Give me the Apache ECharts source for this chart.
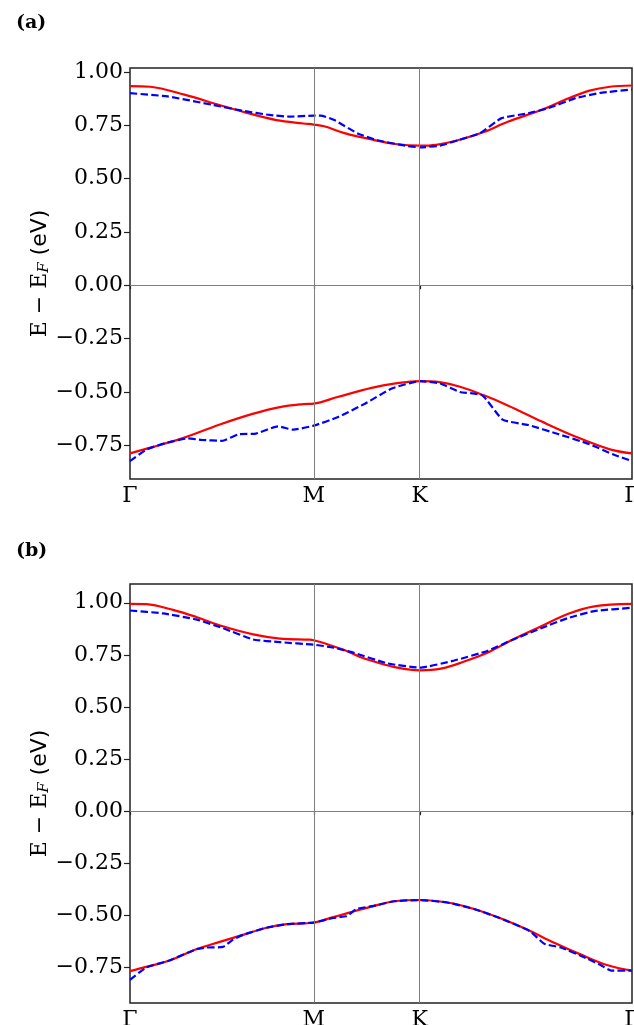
<!DOCTYPE html>
<html>
<head>
<meta charset="utf-8">
<script src="https://cdn.jsdelivr.net/npm/echarts@6/dist/echarts.min.js"></script>
<style>
  html, body { margin: 0; padding: 0; background: #fff; }
  #chart { width: 634px; height: 1025px; }
</style>
</head>
<body>
<div id="chart"></div>
<script>
// k-path positions of the high-symmetry points and their labels
const kTicks = [0, 0.5774, 0.9107, 1.5774];
const kLabels = ['Γ', 'M', 'K', 'Γ'];
const yTicks = [-0.75, -0.5, -0.25, 0, 0.25, 0.5, 0.75, 1.0];

// panel (a): [k, E] pairs
const aRedUpper = [[0,0.933],[0.064,0.930],[0.171,0.893],[0.278,0.846],[0.364,0.809],[0.460,0.774],[0.545,0.758],[0.577,0.753],[0.610,0.745],[0.674,0.713],[0.759,0.683],[0.834,0.662],[0.911,0.654],[0.962,0.658],[1.027,0.678],[1.112,0.718],[1.187,0.766],[1.294,0.822],[1.380,0.877],[1.444,0.912],[1.508,0.930],[1.577,0.936]];
const aBlueUpper = [[0,0.900],[0.118,0.885],[0.257,0.846],[0.353,0.818],[0.438,0.798],[0.503,0.790],[0.577,0.795],[0.599,0.795],[0.642,0.774],[0.717,0.710],[0.781,0.678],[0.866,0.654],[0.911,0.646],[0.973,0.654],[1.037,0.682],[1.101,0.713],[1.166,0.782],[1.251,0.806],[1.315,0.830],[1.401,0.877],[1.476,0.901],[1.577,0.917]];
const aRedLower = [[0,-0.788],[0.064,-0.761],[0.171,-0.714],[0.278,-0.655],[0.385,-0.603],[0.471,-0.571],[0.545,-0.557],[0.577,-0.555],[0.652,-0.524],[0.759,-0.481],[0.834,-0.460],[0.911,-0.449],[0.973,-0.454],[1.037,-0.476],[1.112,-0.516],[1.187,-0.563],[1.294,-0.639],[1.401,-0.710],[1.508,-0.769],[1.577,-0.788]];
const aBlueLower = [[0,-0.824],[0.053,-0.769],[0.118,-0.737],[0.182,-0.718],[0.225,-0.725],[0.289,-0.729],[0.342,-0.698],[0.396,-0.695],[0.465,-0.661],[0.513,-0.677],[0.577,-0.658],[0.652,-0.619],[0.738,-0.555],[0.823,-0.484],[0.911,-0.449],[0.973,-0.460],[1.037,-0.500],[1.107,-0.516],[1.171,-0.630],[1.251,-0.655],[1.347,-0.698],[1.444,-0.745],[1.519,-0.793],[1.577,-0.824]];

// panel (b)
const bRedUpper = [[0,0.995],[0.051,0.993],[0.135,0.966],[0.208,0.932],[0.292,0.887],[0.387,0.848],[0.471,0.828],[0.565,0.823],[0.577,0.820],[0.618,0.802],[0.681,0.769],[0.723,0.740],[0.767,0.718],[0.840,0.689],[0.911,0.676],[0.977,0.684],[1.050,0.718],[1.123,0.760],[1.197,0.819],[1.292,0.887],[1.375,0.946],[1.459,0.983],[1.577,0.995]];
const bBlueUpper = [[0,0.963],[0.103,0.949],[0.208,0.920],[0.292,0.878],[0.387,0.824],[0.471,0.811],[0.577,0.799],[0.639,0.785],[0.704,0.760],[0.809,0.709],[0.911,0.689],[1.019,0.723],[1.123,0.769],[1.197,0.819],[1.292,0.878],[1.375,0.926],[1.459,0.960],[1.577,0.976]];
const bRedLower = [[0,-0.767],[0.051,-0.747],[0.124,-0.716],[0.208,-0.662],[0.282,-0.627],[0.355,-0.593],[0.429,-0.559],[0.492,-0.542],[0.577,-0.534],[0.639,-0.508],[0.681,-0.490],[0.767,-0.454],[0.830,-0.432],[0.911,-0.426],[0.997,-0.438],[1.081,-0.469],[1.166,-0.515],[1.249,-0.569],[1.333,-0.631],[1.417,-0.688],[1.501,-0.739],[1.577,-0.765]];
const bBlueLower = [[0,-0.809],[0.051,-0.750],[0.124,-0.716],[0.208,-0.662],[0.240,-0.654],[0.292,-0.651],[0.324,-0.616],[0.355,-0.593],[0.429,-0.559],[0.492,-0.542],[0.577,-0.534],[0.639,-0.512],[0.681,-0.503],[0.712,-0.469],[0.767,-0.454],[0.830,-0.432],[0.911,-0.426],[0.997,-0.438],[1.081,-0.469],[1.166,-0.515],[1.249,-0.569],[1.270,-0.593],[1.302,-0.636],[1.354,-0.654],[1.438,-0.708],[1.480,-0.739],[1.512,-0.765],[1.577,-0.765]];

const serif = '"DejaVu Serif", serif';
const sans = '"DejaVu Sans", sans-serif';

const chart = echarts.init(document.getElementById('chart'), null, { renderer: 'canvas' });

function xAxisFor(i) {
  return {
    gridIndex: i, type: 'value', min: kTicks[0], max: kTicks[kTicks.length - 1],
    axisLine: { show: false },
    splitLine: { show: false },
    axisTick: { show: true, customValues: kTicks, length: 4, lineStyle: { color: '#222', width: 1.2 } },
    axisLabel: {
      customValues: kTicks,
      formatter: function (v) {
        const j = kTicks.findIndex(t => Math.abs(t - v) < 1e-6);
        return j >= 0 ? kLabels[j] : '';
      },
      color: '#000', fontFamily: serif, fontSize: 22, margin: 6,
      showMinLabel: true, showMaxLabel: true
    }
  };
}

function yAxisFor(i, ymin, ymax) {
  return {
    gridIndex: i, type: 'value', min: ymin, max: ymax,
    axisLine: { show: false },
    splitLine: { show: false },
    axisTick: { show: true, customValues: yTicks, length: 6, lineStyle: { color: '#222', width: 1.2 } },
    axisLabel: {
      customValues: yTicks,
      formatter: v => (v < 0 ? '\u2212' : '') + Math.abs(v).toFixed(2),
      color: '#000', fontFamily: serif, fontSize: 22, margin: 7
    },
    name: '{e|E \u2212 E}{f|F}{u| (eV)}',
    nameLocation: 'middle', nameRotate: 90, nameGap: 78,
    nameMoveOverlap: false,
    nameTextStyle: {
      rich: {
        e: { fontFamily: serif, fontSize: 22, color: '#000' },
        f: { fontFamily: serif, fontStyle: 'italic', fontSize: 15, color: '#000', padding: [9, 0, 0, 0] },
        u: { fontFamily: sans, fontSize: 22, color: '#000' }
      }
    }
  };
}

function bandSeries(i, data, color, dashed, withMarks) {
  const s = {
    type: 'line', xAxisIndex: i, yAxisIndex: i, data: data,
    showSymbol: false, smooth: dashed ? 0.15 : 0.35, animation: false,
    lineStyle: { color: color, width: 2.2, type: dashed ? [7.4, 3.2] : 'solid' },
    z: dashed ? 4 : 3
  };
  if (withMarks) {
    s.markLine = {
      silent: true, symbol: 'none', animation: false,
      label: { show: false },
      lineStyle: { color: '#7f7f7f', width: 1, type: 'solid' },
      data: [{ xAxis: kTicks[1] }, { xAxis: kTicks[2] }, { yAxis: 0 }]
    };
  }
  return s;
}

const gridBase = { outerBoundsMode: 'none', containLabel: false, show: true, borderColor: '#222', borderWidth: 1.5, backgroundColor: 'transparent' };

const option = {
  backgroundColor: '#fff',
  animation: false,
  title: [
    { text: '(a)', left: 11, top: 9, textStyle: { fontFamily: serif, fontWeight: 'bold', fontSize: 19, color: '#000' } },
    { text: '(b)', left: 11, top: 537, textStyle: { fontFamily: serif, fontWeight: 'bold', fontSize: 19, color: '#000' } }
  ],
  grid: [
    Object.assign({ left: 130, top: 68, width: 502, height: 411 }, gridBase),
    Object.assign({ left: 130, top: 584, width: 502, height: 419 }, gridBase)
  ],
  xAxis: [xAxisFor(0), xAxisFor(1)],
  yAxis: [yAxisFor(0, -0.908, 1.018), yAxisFor(1, -0.92, 1.09)],
  series: [
    bandSeries(0, aRedUpper, '#ff0000', false, true),
    bandSeries(0, aRedLower, '#ff0000', false, false),
    bandSeries(0, aBlueUpper, '#0000ff', true, false),
    bandSeries(0, aBlueLower, '#0000ff', true, false),
    bandSeries(1, bRedUpper, '#ff0000', false, true),
    bandSeries(1, bRedLower, '#ff0000', false, false),
    bandSeries(1, bBlueUpper, '#0000ff', true, false),
    bandSeries(1, bBlueLower, '#0000ff', true, false)
  ]
};

chart.setOption(option);
</script>
</body>
</html>
